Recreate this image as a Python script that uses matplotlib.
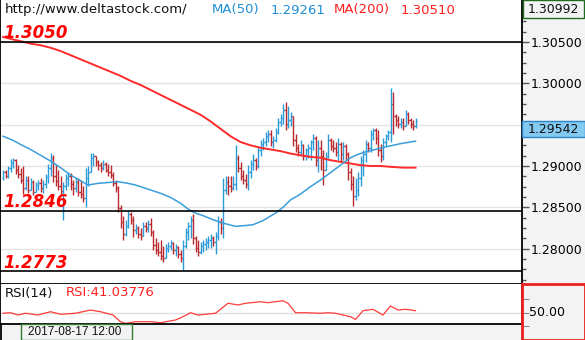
import numpy as np
import matplotlib
matplotlib.use("Agg")
import matplotlib.pyplot as plt
import matplotlib.transforms as mtransforms
from matplotlib.patches import Rectangle
from matplotlib.lines import Line2D
from matplotlib.ticker import MultipleLocator, FuncFormatter, NullFormatter

# OHLC bars, oldest first
opens = [
    1.2885, 1.2893, 1.2888, 1.2898, 1.2904, 1.2907, 1.2895, 1.2890, 1.2883, 1.2873,
    1.2883, 1.2871, 1.2881, 1.2869, 1.2877, 1.2879, 1.2873, 1.2878, 1.2887, 1.2898,
    1.2910, 1.2888, 1.2882, 1.2876, 1.2870, 1.2876, 1.2885, 1.2888, 1.2878, 1.2873,
    1.2881, 1.2869, 1.2866, 1.2861, 1.2885, 1.2893, 1.2910, 1.2912, 1.2905, 1.2901,
    1.2898, 1.2902, 1.2895, 1.2893, 1.2889, 1.2879, 1.2873, 1.2849, 1.2832, 1.2818,
    1.2827, 1.2842, 1.2835, 1.2823, 1.2825, 1.2818, 1.2815, 1.2827, 1.2825, 1.2830,
    1.2820, 1.2804, 1.2798, 1.2796, 1.2791, 1.2789, 1.2801, 1.2803, 1.2807, 1.2798,
    1.2802, 1.2794, 1.2789, 1.2803, 1.2820, 1.2827, 1.2835, 1.2813, 1.2801, 1.2796,
    1.2803, 1.2806, 1.2808, 1.2811, 1.2813, 1.2808, 1.2815, 1.2832, 1.2825, 1.2871,
    1.2881, 1.2876, 1.2873, 1.2878, 1.2910, 1.2898, 1.2888, 1.2883, 1.2878, 1.2893,
    1.2902, 1.2907, 1.2900, 1.2919, 1.2927, 1.2929, 1.2936, 1.2939, 1.2929, 1.2931,
    1.2941, 1.2953, 1.2958, 1.2968, 1.2951, 1.2956, 1.2960, 1.2931, 1.2922, 1.2917,
    1.2925, 1.2912, 1.2919, 1.2922, 1.2929, 1.2934, 1.2907, 1.2922, 1.2912, 1.2895,
    1.2912, 1.2931, 1.2924, 1.2922, 1.2917, 1.2927, 1.2915, 1.2924, 1.2915, 1.2893,
    1.2878, 1.2864, 1.2871, 1.2885, 1.2907, 1.2915, 1.2927, 1.2922, 1.2939, 1.2944,
    1.2934, 1.2919, 1.2912, 1.2929, 1.2936, 1.2941, 1.2975, 1.2960, 1.2956, 1.2951,
    1.2953, 1.2948, 1.2963, 1.2956, 1.2951, 1.2948,
]
highs = [
    1.2895, 1.2895, 1.2900, 1.2908, 1.2910, 1.2908, 1.2901, 1.2898, 1.2900, 1.2888,
    1.2888, 1.2885, 1.2883, 1.2881, 1.2883, 1.2885, 1.2883, 1.2890, 1.2902, 1.2916,
    1.2913, 1.2901, 1.2895, 1.2888, 1.2881, 1.2890, 1.2893, 1.2892, 1.2883, 1.2885,
    1.2885, 1.2883, 1.2876, 1.2898, 1.2900, 1.2916, 1.2916, 1.2912, 1.2907, 1.2905,
    1.2907, 1.2905, 1.2902, 1.2901, 1.2893, 1.2883, 1.2876, 1.2853, 1.2840, 1.2835,
    1.2847, 1.2844, 1.2840, 1.2830, 1.2827, 1.2825, 1.2832, 1.2832, 1.2835, 1.2837,
    1.2823, 1.2813, 1.2808, 1.2811, 1.2803, 1.2806, 1.2808, 1.2811, 1.2808, 1.2806,
    1.2803, 1.2798, 1.2811, 1.2825, 1.2832, 1.2840, 1.2842, 1.2815, 1.2811, 1.2808,
    1.2811, 1.2813, 1.2815, 1.2818, 1.2815, 1.2820, 1.2840, 1.2837, 1.2885, 1.2888,
    1.2888, 1.2888, 1.2888, 1.2925, 1.2913, 1.2905, 1.2895, 1.2890, 1.2901, 1.2907,
    1.2915, 1.2910, 1.2924, 1.2931, 1.2934, 1.2941, 1.2944, 1.2944, 1.2936, 1.2946,
    1.2958, 1.2963, 1.2975, 1.2977, 1.2973, 1.2965, 1.2960, 1.2939, 1.2927, 1.2931,
    1.2927, 1.2922, 1.2927, 1.2931, 1.2939, 1.2936, 1.2931, 1.2931, 1.2919, 1.2917,
    1.2939, 1.2934, 1.2931, 1.2929, 1.2934, 1.2929, 1.2929, 1.2927, 1.2917, 1.2898,
    1.2888, 1.2885, 1.2893, 1.2912, 1.2919, 1.2931, 1.2929, 1.2944, 1.2946, 1.2946,
    1.2944, 1.2927, 1.2934, 1.2939, 1.2944, 1.2994, 1.2990, 1.2963, 1.2960, 1.2958,
    1.2958, 1.2968, 1.2965, 1.2958, 1.2956, 1.2958,
]
lows = [
    1.2883, 1.2885, 1.2885, 1.2893, 1.2898, 1.2890, 1.2885, 1.2879, 1.2866, 1.2871,
    1.2867, 1.2871, 1.2865, 1.2869, 1.2871, 1.2869, 1.2867, 1.2873, 1.2879, 1.2888,
    1.2881, 1.2876, 1.2871, 1.2864, 1.2835, 1.2871, 1.2876, 1.2871, 1.2865, 1.2869,
    1.2864, 1.2861, 1.2856, 1.2850, 1.2876, 1.2893, 1.2900, 1.2900, 1.2895, 1.2893,
    1.2895, 1.2893, 1.2888, 1.2885, 1.2876, 1.2869, 1.2844, 1.2825, 1.2811, 1.2815,
    1.2825, 1.2830, 1.2814, 1.2818, 1.2813, 1.2811, 1.2815, 1.2820, 1.2820, 1.2815,
    1.2798, 1.2794, 1.2791, 1.2786, 1.2784, 1.2789, 1.2796, 1.2798, 1.2794, 1.2791,
    1.2789, 1.2784, 1.2774, 1.2801, 1.2811, 1.2813, 1.2806, 1.2796, 1.2791, 1.2794,
    1.2796, 1.2798, 1.2801, 1.2801, 1.2803, 1.2794, 1.2811, 1.2818, 1.2813, 1.2866,
    1.2865, 1.2869, 1.2871, 1.2871, 1.2893, 1.2883, 1.2878, 1.2873, 1.2871, 1.2885,
    1.2895, 1.2895, 1.2898, 1.2912, 1.2919, 1.2924, 1.2929, 1.2924, 1.2922, 1.2929,
    1.2939, 1.2948, 1.2951, 1.2944, 1.2946, 1.2948, 1.2924, 1.2917, 1.2912, 1.2912,
    1.2907, 1.2907, 1.2910, 1.2907, 1.2919, 1.2900, 1.2893, 1.2895, 1.2877, 1.2895,
    1.2910, 1.2919, 1.2917, 1.2912, 1.2907, 1.2905, 1.2907, 1.2907, 1.2883, 1.2871,
    1.2852, 1.2859, 1.2864, 1.2876, 1.2888, 1.2905, 1.2917, 1.2917, 1.2931, 1.2927,
    1.2912, 1.2905, 1.2907, 1.2924, 1.2931, 1.2929, 1.2939, 1.2948, 1.2946, 1.2946,
    1.2944, 1.2948, 1.2951, 1.2946, 1.2944, 1.2946,
]
closes = [
    1.2893, 1.2888, 1.2898, 1.2905, 1.2907, 1.2895, 1.2890, 1.2883, 1.2873, 1.2883,
    1.2871, 1.2881, 1.2869, 1.2877, 1.2879, 1.2873, 1.2878, 1.2887, 1.2898, 1.2910,
    1.2888, 1.2882, 1.2876, 1.2870, 1.2876, 1.2885, 1.2888, 1.2878, 1.2873, 1.2881,
    1.2869, 1.2866, 1.2861, 1.2885, 1.2893, 1.2910, 1.2912, 1.2905, 1.2901, 1.2898,
    1.2902, 1.2895, 1.2893, 1.2889, 1.2879, 1.2873, 1.2849, 1.2832, 1.2818, 1.2827,
    1.2842, 1.2835, 1.2823, 1.2825, 1.2818, 1.2815, 1.2827, 1.2825, 1.2830, 1.2820,
    1.2804, 1.2798, 1.2796, 1.2791, 1.2789, 1.2801, 1.2803, 1.2807, 1.2798, 1.2802,
    1.2794, 1.2789, 1.2803, 1.2820, 1.2827, 1.2835, 1.2813, 1.2801, 1.2796, 1.2803,
    1.2806, 1.2808, 1.2811, 1.2813, 1.2808, 1.2815, 1.2832, 1.2825, 1.2871, 1.2881,
    1.2876, 1.2873, 1.2878, 1.2910, 1.2898, 1.2888, 1.2883, 1.2878, 1.2893, 1.2902,
    1.2907, 1.2900, 1.2919, 1.2927, 1.2929, 1.2936, 1.2939, 1.2929, 1.2931, 1.2941,
    1.2953, 1.2958, 1.2968, 1.2951, 1.2956, 1.2960, 1.2931, 1.2922, 1.2917, 1.2925,
    1.2912, 1.2919, 1.2922, 1.2929, 1.2934, 1.2907, 1.2922, 1.2912, 1.2895, 1.2912,
    1.2931, 1.2924, 1.2922, 1.2917, 1.2927, 1.2915, 1.2924, 1.2915, 1.2893, 1.2878,
    1.2864, 1.2871, 1.2885, 1.2907, 1.2915, 1.2927, 1.2922, 1.2939, 1.2944, 1.2934,
    1.2919, 1.2912, 1.2929, 1.2936, 1.2941, 1.2975, 1.2960, 1.2956, 1.2951, 1.2953,
    1.2948, 1.2963, 1.2956, 1.2951, 1.2948, 1.29542,
]

# moving averages (bar index, value)
ma50_idx = [0, 4, 7, 11, 15, 19, 23, 27, 30, 34, 38, 42, 46, 50, 53, 56, 59,
            63, 67, 71, 74, 77, 80, 84, 88, 93, 97, 100, 104, 109, 112, 115,
            119, 123, 127, 131, 135, 139, 142, 145, 149, 153, 159, 165]
ma50_val = [1.2936, 1.2931, 1.29261, 1.2920, 1.2913, 1.2906, 1.2898, 1.2889,
            1.2884, 1.2877, 1.2879, 1.2880, 1.2881, 1.2879, 1.2877, 1.2874,
            1.2871, 1.2867, 1.2862, 1.2855, 1.2848, 1.2843, 1.2840, 1.2835,
            1.2831, 1.2827, 1.2828, 1.2829, 1.2834, 1.2843, 1.2850, 1.2859,
            1.2866, 1.2875, 1.2883, 1.2892, 1.2901, 1.2910, 1.2914, 1.2917,
            1.2920, 1.2923, 1.2927, 1.2930]
ma200_idx = [0, 4, 7, 11, 15, 19, 23, 27, 31, 35, 39, 43, 47, 51, 55, 59, 63,
             67, 71, 75, 79, 83, 87, 91, 95, 99, 103, 107, 111, 115, 119, 123,
             127, 131, 135, 139, 143, 147, 151, 155, 160, 165]
ma200_val = [1.3056, 1.3053, 1.30510, 1.3048, 1.3046, 1.3043, 1.3039, 1.3034,
             1.3029, 1.3024, 1.3019, 1.3014, 1.3009, 1.3003, 1.2998, 1.2992,
             1.2986, 1.2980, 1.2974, 1.2968, 1.2962, 1.2954, 1.2945, 1.2936,
             1.2929, 1.2925, 1.2922, 1.2920, 1.2918, 1.2915, 1.2913, 1.2911,
             1.2910, 1.2907, 1.2905, 1.2903, 1.2901, 1.2900, 1.2900, 1.2899,
             1.2898, 1.2898]

# RSI(14)
rsi_idx = [0, 3, 6, 9, 14, 19, 23, 29, 35, 39, 44, 47, 49, 53, 59, 63, 69, 72,
           75, 78, 85, 90, 94, 97, 103, 106, 112, 114, 117, 121, 127, 130, 133,
           139, 141, 144, 148, 152, 155, 158, 161, 165]
rsi_val = [49.6, 50.4, 47.0, 49.6, 47.0, 51.9, 48.1, 49.6, 54.4, 51.9, 47.0,
           37.1, 34.7, 37.1, 37.1, 35.6, 39.6, 44.5, 50.4, 47.0, 49.6, 64.4,
           61.9, 64.4, 66.7, 65.3, 68.2, 64.4, 50.4, 50.4, 49.6, 50.4, 49.6,
           44.5, 40.5, 53.4, 55.5, 47.0, 60.4, 54.4, 55.5, 53.4]

levels = [1.3050, 1.2846, 1.2773]
level_labels = ["1.3050", "1.2846", "1.2773"]
price_ticks = [1.280, 1.285, 1.290, 1.295, 1.300, 1.305]
axis_top = 1.30992
cursor_date = "2017-08-17 12:00"
cursor_ma50 = 1.29261
cursor_ma200 = 1.30510
cursor_rsi = 41.03776

UP = "#2b9bd8"
DOWN = "#b8282c"
BG = "#f3f3f3"

W, H = 585, 340
fig = plt.figure(figsize=(W / 100, H / 100), dpi=100, facecolor=BG)


def rect(x0, y0, x1, y1):
    # pixel box measured from the top-left corner -> figure fraction
    return [x0 / W, 1 - y1 / H, (x1 - x0) / W, (y1 - y0) / H]


def px_text(x, y, s, **kw):
    return fig.text(x / W, 1 - y / H, s, **kw)


ax = fig.add_axes(rect(0, 0, 522, 284), facecolor="white")
ax_rsi = fig.add_axes(rect(0, 284, 522, 324), facecolor="white")
ax_rsi_r = fig.add_axes(rect(522, 284, 585, 340), facecolor=BG)

x = np.arange(len(closes))
o = np.array(opens)
h = np.array(highs)
l = np.array(lows)
c = np.array(closes)
up = c >= o

# OHLC bars
for mask, col in ((up, UP), (~up, DOWN)):
    ax.vlines(x[mask], l[mask], h[mask], color=col, lw=1.0, zorder=2)
    ax.hlines(o[mask], x[mask] - 0.55, x[mask], color=col, lw=1.0, zorder=2)
    ax.hlines(c[mask], x[mask], x[mask] + 0.55, color=col, lw=1.0, zorder=2)

ax.plot(ma200_idx, ma200_val, color="#ff2b2b", lw=1.4, zorder=3)
ax.plot(ma50_idx, ma50_val, color="#3a9edb", lw=1.1, zorder=3)

xlim = (-1.2, 207.6)
ymin, ymax = 1.27573, 1.31007
ax.set_xlim(*xlim)
ax.set_ylim(ymin, ymax)

for lvl, lab in zip(levels, level_labels):
    ax.axhline(lvl, color="black", lw=1.2, zorder=4)
    ax.annotate(lab, xy=(0, lvl), xycoords=("axes fraction", "data"),
                xytext=(2.5, 2.5), textcoords="offset points",
                color="#ff0000", fontsize=12, fontweight="bold",
                fontstyle="italic", va="baseline", ha="left", zorder=5)

# last price marker size, in price units
last = closes[-1]
box_h = 16 * (ymax - ymin) / 284


def price_label(v, pos):
    # the last-price box sits on top of this part of the scale
    if last - box_h - 0.0002 < v < last + 0.0002:
        return ""
    return f"{v:.5f}"


ax.set_yticks(price_ticks)
ax.yaxis.set_minor_locator(MultipleLocator(0.00125))
ax.yaxis.set_major_formatter(FuncFormatter(price_label))
ax.yaxis.set_minor_formatter(NullFormatter())
ax.yaxis.tick_right()
ax.tick_params(axis="y", which="major", direction="out", length=5, width=1,
               color="#555555", labelsize=9, pad=1.5)
ax.tick_params(axis="y", which="minor", direction="out", length=3, width=1,
               color="#555555")
ax.set_xticks([])
ax.grid(axis="y", which="major", color="#e4e4e4", lw=1, zorder=0)
ax.set_axisbelow(True)
for side in ("left", "bottom", "right"):
    ax.spines[side].set_color("black")
    ax.spines[side].set_linewidth(1.3)
ax.spines["top"].set_visible(False)

# RSI panel
ax_rsi.plot(rsi_idx, rsi_val, color="#ff3b3b", lw=0.9)
ax_rsi.axhline(50, color="#e0e0e0", lw=1, zorder=0)
ax_rsi.set_xlim(*xlim)
ax_rsi.set_ylim(33.7, 92.96)
ax_rsi.set_xticks([])
ax_rsi.set_yticks([])
ax_rsi.spines["top"].set_visible(False)
for side in ("left", "bottom", "right"):
    ax_rsi.spines[side].set_color("black")
    ax_rsi.spines[side].set_linewidth(1.3)

ax_rsi_r.set_xlim(0, 1)
ax_rsi_r.set_ylim(10.0, 92.96)
ax_rsi_r.set_xticks([])
ax_rsi_r.set_yticks([30, 50, 70])
ax_rsi_r.yaxis.set_major_formatter(NullFormatter())
ax_rsi_r.tick_params(axis="y", direction="in", length=5, color="#888888")
for sp in ax_rsi_r.spines.values():
    sp.set_color("#e8211f")
    sp.set_linewidth(2)
ax_rsi_r.text(7 / 63, 50, "50.00", fontsize=9, va="center", ha="left")

# header
hy = 10
px_text(5, hy, "http://www.deltastock.com/", fontsize=9.5, va="center", color="#111111")
px_text(212, hy, "MA(50)", fontsize=9.5, va="center", color="#1e8fd6")
px_text(271, hy, f"{cursor_ma50:.5f}", fontsize=9.5, va="center", color="#1e8fd6")
px_text(334, hy, "MA(200)", fontsize=9.5, va="center", color="#ff2020")
px_text(401, hy, f"{cursor_ma200:.5f}", fontsize=9.5, va="center", color="#ff2020")

px_text(5, 293, "RSI(14)", fontsize=9.5, va="center", color="#111111")
px_text(66, 293, f"RSI:{cursor_rsi:.5f}", fontsize=9.5, va="center", color="#ff2020")

# date row
fig.add_artist(Rectangle(rect(21, 324, 132, 340)[:2], 111 / W, 16 / H,
                         transform=fig.transFigure, facecolor="none",
                         edgecolor="#2e7d32", lw=1))
px_text(28, 332, cursor_date, fontsize=8.5, family="Liberation Sans",
        va="center", color="#111111")
fig.add_artist(Line2D([0.5 / W, 0.5 / W], [0, 16 / H], color="black", lw=1.3,
                      transform=fig.transFigure))

# top price box
fig.add_artist(Rectangle(rect(523, 0.5, 584, 18)[:2], 61 / W, 17.5 / H,
                         transform=fig.transFigure, facecolor=BG,
                         edgecolor="#1f6b1f", lw=1))
px_text(553, 9.5, f"{axis_top:.5f}", fontsize=9, va="center", ha="center", color="#111111")

# last price box hanging below the last close
trans = mtransforms.blended_transform_factory(fig.transFigure, ax.transData)
fig.add_artist(Rectangle((522 / W, last - box_h), 63 / W, box_h, transform=trans,
                         facecolor="#84c9f0", edgecolor="#2a86c8", lw=1, zorder=5))
fig.add_artist(plt.Text(553 / W, last - box_h / 2, f"{last:.5f}", transform=trans,
                        fontsize=9, va="center", ha="center", color="#111111",
                        zorder=6))

fig.savefig("out.png", dpi=100, facecolor=BG)
